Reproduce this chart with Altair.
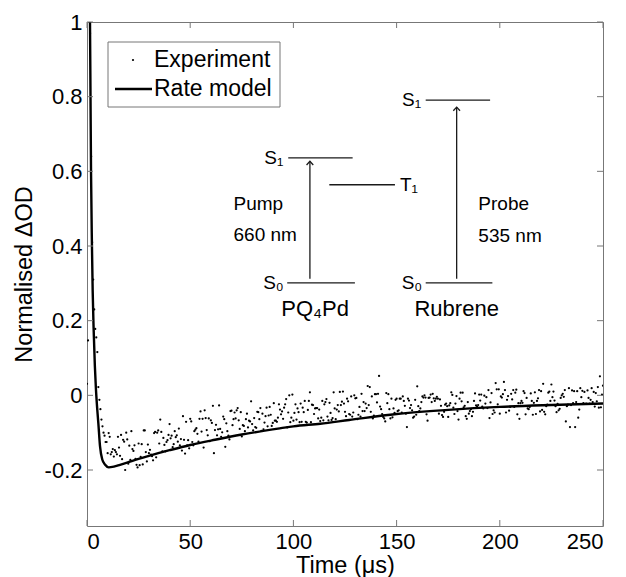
import altair as alt
import pandas as pd

# ---------------- data ----------------
# Experiment: normalised dOD sampled every 0.5 us from t = 0 to 250 us
exp_early = [0.031, 0.147, 1.08, 0.97, 0.64, 0.41, 0.31, 0.23,
             0.178, 0.155, 0.116, 0.022, -0.012, -0.037, -0.065, -0.083]
exp_rows = [
    [-0.100, -0.108, -0.125, -0.125, -0.155, -0.101, -0.111, -0.158, -0.152, -0.144, -0.164, -0.147, -0.152, -0.158, -0.111, -0.140, -0.162, -0.106, -0.171, -0.119],
    [-0.124, -0.200, -0.100, -0.118, -0.183, -0.135, -0.173, -0.096, -0.144, -0.149, -0.134, -0.170, -0.186, -0.193, -0.129, -0.187, -0.165, -0.131, -0.185, -0.094],
    [-0.094, -0.152, -0.177, -0.132, -0.155, -0.146, -0.159, -0.163, -0.174, -0.101, -0.098, -0.166, -0.100, -0.094, -0.129, -0.065, -0.098, -0.150, -0.114, -0.133],
    [-0.150, -0.125, -0.120, -0.106, -0.077, -0.115, -0.108, -0.139, -0.131, -0.096, -0.112, -0.107, -0.124, -0.089, -0.134, -0.117, -0.148, -0.056, -0.119, -0.156],
    [-0.071, -0.134, -0.120, -0.142, -0.063, -0.070, -0.125, -0.134, -0.096, -0.092, -0.088, -0.103, -0.124, -0.063, -0.043, -0.097, -0.063, -0.140, -0.040, -0.061],
    [-0.093, -0.107, -0.062, -0.123, -0.067, -0.074, -0.028, -0.155, -0.093, -0.079, -0.107, -0.091, -0.027, -0.090, -0.111, -0.099, -0.057, -0.064, -0.138, -0.075],
    [-0.096, -0.108, -0.118, -0.042, -0.041, -0.080, -0.064, -0.046, -0.062, -0.040, -0.034, -0.067, -0.090, -0.045, -0.110, -0.080, -0.082, -0.096, -0.064, -0.049],
    [-0.086, -0.068, -0.070, -0.016, -0.077, -0.094, -0.061, -0.085, -0.087, -0.044, -0.045, -0.064, -0.034, -0.095, -0.049, -0.091, -0.073, -0.056, -0.033, -0.083],
    [-0.054, -0.031, -0.052, -0.082, -0.074, -0.021, -0.068, -0.068, -0.071, -0.060, -0.024, -0.038, -0.051, -0.043, -0.063, -0.033, -0.024, -0.010, -0.086, -0.046],
    [0.000, -0.072, -0.060, 0.002, -0.068, -0.047, -0.024, -0.065, -0.035, -0.045, -0.072, -0.022, -0.071, -0.033, -0.045, -0.015, -0.071, -0.073, -0.039, -0.015],
    [0.008, -0.072, -0.025, -0.026, -0.050, -0.035, -0.034, -0.034, -0.062, -0.038, -0.069, -0.060, -0.015, -0.067, -0.024, -0.018, -0.010, -0.057, -0.067, -0.020],
    [-0.047, -0.066, -0.061, 0.008, -0.035, -0.064, -0.038, -0.026, -0.043, 0.009, -0.026, -0.017, 0.010, -0.022, -0.044, -0.056, -0.009, -0.016, -0.050, -0.052],
    [-0.003, -0.057, -0.046, 0.000, -0.008, -0.007, -0.064, -0.052, -0.031, -0.057, 0.004, -0.042, -0.018, -0.042, -0.022, -0.034, 0.025, -0.026, 0.022, -0.044],
    [-0.003, -0.062, -0.054, 0.003, 0.003, -0.019, 0.004, 0.052, -0.030, -0.037, -0.050, -0.058, -0.062, -0.070, 0.006, -0.021, 0.003, -0.037, -0.062, -0.009],
    [-0.059, -0.035, -0.047, -0.012, -0.009, -0.042, -0.040, -0.009, -0.009, -0.046, -0.003, -0.015, -0.028, -0.049, -0.085, -0.009, -0.014, -0.034, -0.026, -0.040],
    [-0.060, -0.057, -0.012, -0.052, 0.024, -0.029, -0.042, -0.035, -0.018, -0.003, -0.006, 0.000, -0.006, -0.051, -0.068, -0.007, -0.006, 0.002, -0.018, 0.004],
    [-0.008, -0.015, -0.009, -0.004, -0.009, -0.049, -0.011, -0.028, -0.053, -0.058, -0.044, -0.025, -0.022, -0.029, -0.058, -0.027, -0.021, 0.008, 0.001, -0.033],
    [-0.050, -0.022, -0.002, -0.042, -0.065, -0.009, 0.007, -0.016, 0.007, -0.032, -0.028, -0.056, -0.063, -0.018, -0.049, -0.042, -0.037, -0.056, -0.044, -0.015],
    [0.005, -0.027, -0.031, -0.026, 0.002, -0.014, 0.002, -0.030, -0.035, -0.001, -0.022, -0.005, -0.034, 0.014, -0.061, -0.019, 0.006, -0.050, -0.040, -0.046],
    [0.033, 0.016, -0.024, 0.016, -0.049, -0.003, -0.006, 0.003, 0.036, 0.014, -0.046, -0.012, -0.002, -0.041, -0.031, 0.004, -0.011, 0.014, -0.031, 0.007],
    [0.015, -0.051, -0.021, -0.063, -0.021, -0.015, -0.020, 0.011, 0.006, -0.051, -0.007, -0.035, -0.037, -0.031, 0.005, -0.015, -0.052, -0.020, 0.008, -0.050],
    [-0.015, -0.008, 0.014, -0.043, 0.011, -0.039, 0.031, -0.044, -0.051, -0.029, -0.025, 0.007, 0.010, -0.015, 0.029, -0.005, 0.010, -0.014, -0.029, -0.045],
    [-0.023, -0.040, -0.036, -0.007, 0.000, 0.004, -0.004, 0.014, -0.070, -0.029, -0.025, 0.019, -0.085, -0.026, 0.013, -0.021, 0.011, -0.085, -0.018, 0.011],
    [-0.060, -0.038, 0.019, -0.005, 0.012, -0.021, 0.009, -0.023, -0.022, 0.013, -0.007, -0.022, -0.012, 0.019, -0.018, 0.009, -0.030, 0.006, -0.016, 0.022],
]
exp_late = [-0.033, 0.051, -0.032, 0.002, 0.026]

exp_y = list(exp_early)
for row in exp_rows:
    exp_y += row
exp_y += exp_late
exp_t = [0.5 * i for i in range(len(exp_y))]

# Rate model curve
model_t = [1.2, 1.45, 1.7, 1.95, 2.4, 2.75, 3.2, 3.8, 4.3, 5.0, 5.5, 6.3, 7.4, 8.8,
           10.5, 13, 16, 20, 25, 30, 40, 50, 62, 75, 94, 100, 113, 127, 150, 175,
           200, 225, 250]
model_y = [1.12, 1.0, 0.8, 0.6, 0.4, 0.28, 0.18, 0.08, 0.02, -0.04, -0.075, -0.136,
           -0.172, -0.186, -0.193, -0.191, -0.186, -0.179, -0.170, -0.162, -0.147,
           -0.133, -0.119, -0.105, -0.088, -0.083, -0.076, -0.066, -0.050, -0.039,
           -0.031, -0.026, -0.022]

x_ticks = [0, 50, 100, 150, 200, 250]
y_ticks = [-0.2, 0, 0.2, 0.4, 0.6, 0.8, 1.0]

# Inset energy diagram (in data coordinates)
level_x1 = [97.5, 97.0, 117.4, 164.1, 164.1]
level_x2 = [128.7, 129.8, 149.2, 195.3, 196.4]
level_y = [0.636, 0.301, 0.564, 0.791, 0.301]

arrow_x = [108.0, 179.1]
arrow_y1 = [0.312, 0.312]
arrow_y2 = [0.627, 0.772]

lvl_text = ["S\u2081", "S\u2080", "S\u2081", "S\u2080"]
lvl_text_x = [95.6, 95.8, 162.4, 162.9]
lvl_text_y = [0.636, 0.301, 0.791, 0.301]

t1_text = ["T\u2081"]
t1_x = [151.6]
t1_y = [0.564]

side_text = ["Pump", "660 nm", "Probe", "535 nm"]
side_x = [71.0, 71.0, 189.6, 189.6]
side_y = [0.512, 0.430, 0.512, 0.428]

mol_text = ["PQ\u2084Pd", "Rubrene"]
mol_x = [110.5, 179.1]
mol_y = [0.232, 0.232]

# ---------------- chart ----------------
W, H = 516, 504
FONT = "Liberation Sans, Arial, DejaVu Sans, sans-serif"
FRAME = "#777777"
INK = "#1a1a1a"

xs = alt.Scale(domain=[0, 250], nice=False, zero=False)
ys = alt.Scale(domain=[-0.35, 1], nice=False, zero=False)

ylabel_expr = ("datum.value < 0 ? '-' + format(-datum.value, '~g') : "
               "format(datum.value, '~g')")
AX = alt.Axis(title="Time (\u03bcs)", values=x_ticks, format="d",
              labelPadding=5, titlePadding=1)
AY = alt.Axis(title="Normalised \u0394OD", values=y_ticks,
              labelExpr=ylabel_expr, labelPadding=5, titlePadding=8)


def X(field):
    return alt.X(field, scale=xs, axis=AX)


def Y(field):
    return alt.Y(field, scale=ys, axis=AY)


df_exp = pd.DataFrame({"t": exp_t, "v": exp_y})
df_mod = pd.DataFrame({"t": model_t, "v": model_y})
df_xt = pd.DataFrame({"xv": x_ticks})
df_yt = pd.DataFrame({"yv": y_ticks})
df_lvl = pd.DataFrame({"x1": level_x1, "x2": level_x2, "y": level_y})
df_arr = pd.DataFrame({"x": arrow_x, "y1": arrow_y1, "y2": arrow_y2})
df_lt = pd.DataFrame({"x": lvl_text_x, "y": lvl_text_y, "s": lvl_text})
df_t1 = pd.DataFrame({"x": t1_x, "y": t1_y, "s": t1_text})
df_side = pd.DataFrame({"x": side_x, "y": side_y, "s": side_text})
df_mol = pd.DataFrame({"x": mol_x, "y": mol_y, "s": mol_text})
one = pd.DataFrame({"a": [0]})

pts = alt.Chart(df_exp).mark_circle(size=5, color="black", opacity=1, clip=True).encode(
    x=X("t:Q"), y=Y("v:Q"))

line = alt.Chart(df_mod).mark_line(color="black", strokeWidth=2.4, clip=True,
                                   interpolate="monotone").encode(
    x=X("t:Q"), y=Y("v:Q"))

tick_b = alt.Chart(df_xt).mark_rule(color=FRAME, strokeWidth=1).encode(
    x=X("xv:Q"), y=alt.value(H), y2=alt.value(H - 6))
tick_t = alt.Chart(df_xt).mark_rule(color=FRAME, strokeWidth=1).encode(
    x=X("xv:Q"), y=alt.value(0), y2=alt.value(6))
tick_l = alt.Chart(df_yt).mark_rule(color=FRAME, strokeWidth=1).encode(
    y=Y("yv:Q"), x=alt.value(0), x2=alt.value(6))
tick_r = alt.Chart(df_yt).mark_rule(color=FRAME, strokeWidth=1).encode(
    y=Y("yv:Q"), x=alt.value(W - 6), x2=alt.value(W))

levels = alt.Chart(df_lvl).mark_rule(color=INK, strokeWidth=1.3).encode(
    x=X("x1:Q"), x2="x2:Q", y=Y("y:Q"))

shafts = alt.Chart(df_arr).mark_rule(color=INK, strokeWidth=1.3).encode(
    x=X("x:Q"), y=Y("y1:Q"), y2="y2:Q")

heads = alt.Chart(df_arr).mark_point(shape="M -1 1.1 L 0 0 L 1 1.1", filled=False,
                                     color=INK, strokeWidth=1.3, size=45,
                                     opacity=1).encode(
    x=X("x:Q"), y=Y("y2:Q"))

lt = alt.Chart(df_lt).mark_text(font=FONT, fontSize=19, align="right",
                                baseline="middle", color="black", dx=-1).encode(
    x=X("x:Q"), y=Y("y:Q"), text="s:N")
t1 = alt.Chart(df_t1).mark_text(font=FONT, fontSize=19, align="left",
                                baseline="middle", color="black").encode(
    x=X("x:Q"), y=Y("y:Q"), text="s:N")
side = alt.Chart(df_side).mark_text(font=FONT, fontSize=19, align="left",
                                    baseline="middle", color="black").encode(
    x=X("x:Q"), y=Y("y:Q"), text="s:N")
mol = alt.Chart(df_mol).mark_text(font=FONT, fontSize=22, align="center",
                                  baseline="middle", color="black").encode(
    x=X("x:Q"), y=Y("y:Q"), text="s:N")

# Legend (drawn in pixel space of the plot area)
leg_box = alt.Chart(one).mark_rect(fill="white", stroke=FRAME, strokeWidth=1).encode(
    x=alt.value(21), x2=alt.value(193), y=alt.value(20), y2=alt.value(85))
leg_dot = alt.Chart(one).mark_circle(size=5, color="black", opacity=1).encode(
    x=alt.value(46), y=alt.value(38))
leg_line = alt.Chart(one).mark_rule(color="black", strokeWidth=2.4).encode(
    x=alt.value(28), x2=alt.value(65), y=alt.value(67))
leg_txt1 = alt.Chart(one).mark_text(text="Experiment", font=FONT, fontSize=23,
                                    align="left", baseline="middle", color="black").encode(
    x=alt.value(67), y=alt.value(38))
leg_txt2 = alt.Chart(one).mark_text(text="Rate model", font=FONT, fontSize=23,
                                    align="left", baseline="middle", color="black").encode(
    x=alt.value(67), y=alt.value(67))

chart = alt.layer(
    pts, line, tick_b, tick_t, tick_l, tick_r,
    levels, shafts, heads, lt, t1, side, mol,
    leg_box, leg_dot, leg_line, leg_txt1, leg_txt2,
).properties(
    width=W, height=H,
    autosize=alt.AutoSizeParams(type="none"),
    padding={"left": 87, "top": 22, "right": 23, "bottom": 51},
    background="white",
).configure_view(
    stroke=FRAME, strokeWidth=1,
).configure_axis(
    domain=False, ticks=False, grid=False,
    labelFont=FONT, titleFont=FONT, labelColor="black", titleColor="black",
    labelFontSize=22, titleFontSize=23.5, titleFontWeight="normal",
)

chart.save("out.html", embed_options={"renderer": "svg", "actions": False})
